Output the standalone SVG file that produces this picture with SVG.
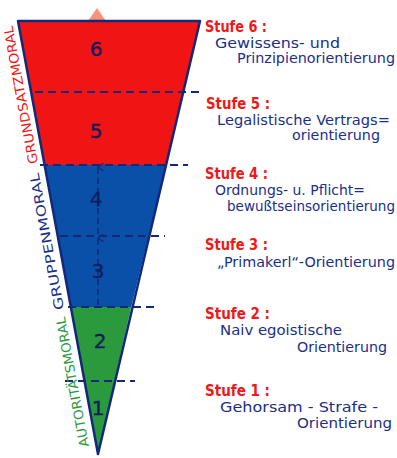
<svg xmlns="http://www.w3.org/2000/svg" width="397" height="458" viewBox="0 0 397 458">
<defs>
<style>
.stufe{font-family:"DejaVu Sans","Liberation Sans",sans-serif;font-size:15px;font-weight:bold;fill:#f01818}
.desc{font-family:"DejaVu Sans","Liberation Sans",sans-serif;font-size:13.5px;fill:#1a2f8a}
.num{font-family:"DejaVu Sans","Liberation Sans",sans-serif;font-size:20px;fill:#0f1d5e;text-anchor:middle;stroke:#0f1d5e;stroke-width:0.4}
.side{font-family:"DejaVu Sans","Liberation Sans",sans-serif;font-size:13px}
.dash{stroke:#13287a;stroke-width:2;stroke-dasharray:8 5;fill:none}
.edge{stroke:#13287a;stroke-width:2.5;fill:none;stroke-linejoin:round}
</style>
<marker id="ah" viewBox="0 0 10 10" refX="5" refY="1" markerWidth="8" markerHeight="8" orient="auto-start-reverse" markerUnits="userSpaceOnUse">
<path d="M0,8 L5,1 L10,8" fill="none" stroke="#13287a" stroke-width="1.6"/>
</marker>
</defs>
<rect width="397" height="458" fill="#ffffff"/>
<polygon points="97,8 106,21 88,21" fill="#f7937a"/>
<g id="bands">
<polygon id="band-red" points="18,21 200,21 166,165 44.6,165" fill="#f01414"/>
<polygon id="band-blue" points="44.6,165 166,165 131.2,307 70.9,307" fill="#0a4fa8"/>
<polygon id="band-green" points="70.9,307 131.2,307 98,454" fill="#2a9a3c"/>
</g>
<g id="connectors">
<line class="dash" x1="35" y1="92" x2="203" y2="92"/>
<line class="dash" x1="40" y1="165" x2="188" y2="165"/>
<line class="dash" x1="60" y1="236" x2="165" y2="236"/>
<line class="dash" x1="68" y1="307" x2="155" y2="307"/>
<line class="dash" x1="65" y1="381" x2="135" y2="381"/>
<line x1="98" y1="305" x2="98" y2="238" stroke="#13287a" stroke-width="1.5" stroke-dasharray="6 4" marker-end="url(#ah)"/>
<line x1="98" y1="234" x2="98" y2="167" stroke="#13287a" stroke-width="1.5" stroke-dasharray="6 4" marker-end="url(#ah)"/>
<polygon class="edge" points="18,21 200,21 98,454"/>
</g>
<g id="numbers">
<text class="num" x="96" y="56">6</text>
<text class="num" x="96" y="138">5</text>
<text class="num" x="96" y="206">4</text>
<text class="num" x="98" y="278">3</text>
<text class="num" x="100" y="348">2</text>
<text class="num" x="98" y="415">1</text>
</g>
<g id="side-labels">
<text class="side" fill="#f01818" transform="translate(38,163) rotate(-100.5)" textLength="140" lengthAdjust="spacingAndGlyphs">GRUNDSATZMORAL</text>
<text class="side" fill="#1a2f8a" transform="translate(64,309) rotate(-100.5)" textLength="139" lengthAdjust="spacingAndGlyphs">GRUPPENMORAL</text>
<text class="side" fill="#2a9a3c" transform="translate(89,446) rotate(-100.5)" textLength="132" lengthAdjust="spacingAndGlyphs">AUTORITÄTSMORAL</text>
</g>
<g id="stufe6">
<text class="stufe" x="205" y="32" textLength="62" lengthAdjust="spacingAndGlyphs">Stufe 6 :</text>
<text class="desc" x="215" y="48" textLength="125" lengthAdjust="spacingAndGlyphs">Gewissens- und</text>
<text class="desc" x="237" y="63" textLength="158" lengthAdjust="spacingAndGlyphs">Prinzipienorientierung</text>
</g>
<g id="stufe5">
<text class="stufe" x="206" y="109" textLength="64" lengthAdjust="spacingAndGlyphs">Stufe 5 :</text>
<text class="desc" x="217" y="125" textLength="173" lengthAdjust="spacingAndGlyphs">Legalistische Vertrags=</text>
<text class="desc" x="292" y="140" textLength="88" lengthAdjust="spacingAndGlyphs">orientierung</text>
</g>
<g id="stufe4">
<text class="stufe" x="205" y="179" textLength="63" lengthAdjust="spacingAndGlyphs">Stufe 4 :</text>
<text class="desc" x="215" y="195" textLength="150" lengthAdjust="spacingAndGlyphs">Ordnungs- u. Pflicht=</text>
<text class="desc" x="227" y="211" textLength="168" lengthAdjust="spacingAndGlyphs">bewußtseinsorientierung</text>
</g>
<g id="stufe3">
<text class="stufe" x="205" y="250" textLength="63" lengthAdjust="spacingAndGlyphs">Stufe 3 :</text>
<text class="desc" x="217" y="267" textLength="178" lengthAdjust="spacingAndGlyphs">„Primakerl“-Orientierung</text>
</g>
<g id="stufe2">
<text class="stufe" x="205" y="319" textLength="65" lengthAdjust="spacingAndGlyphs">Stufe 2 :</text>
<text class="desc" x="220" y="335" textLength="122" lengthAdjust="spacingAndGlyphs">Naiv egoistische</text>
<text class="desc" x="297" y="352" textLength="90" lengthAdjust="spacingAndGlyphs">Orientierung</text>
</g>
<g id="stufe1">
<text class="stufe" x="205" y="396" textLength="65" lengthAdjust="spacingAndGlyphs">Stufe 1 :</text>
<text class="desc" x="220" y="412" textLength="158" lengthAdjust="spacingAndGlyphs">Gehorsam - Strafe -</text>
<text class="desc" x="297" y="428" textLength="95" lengthAdjust="spacingAndGlyphs">Orientierung</text>
</g>
</svg>
